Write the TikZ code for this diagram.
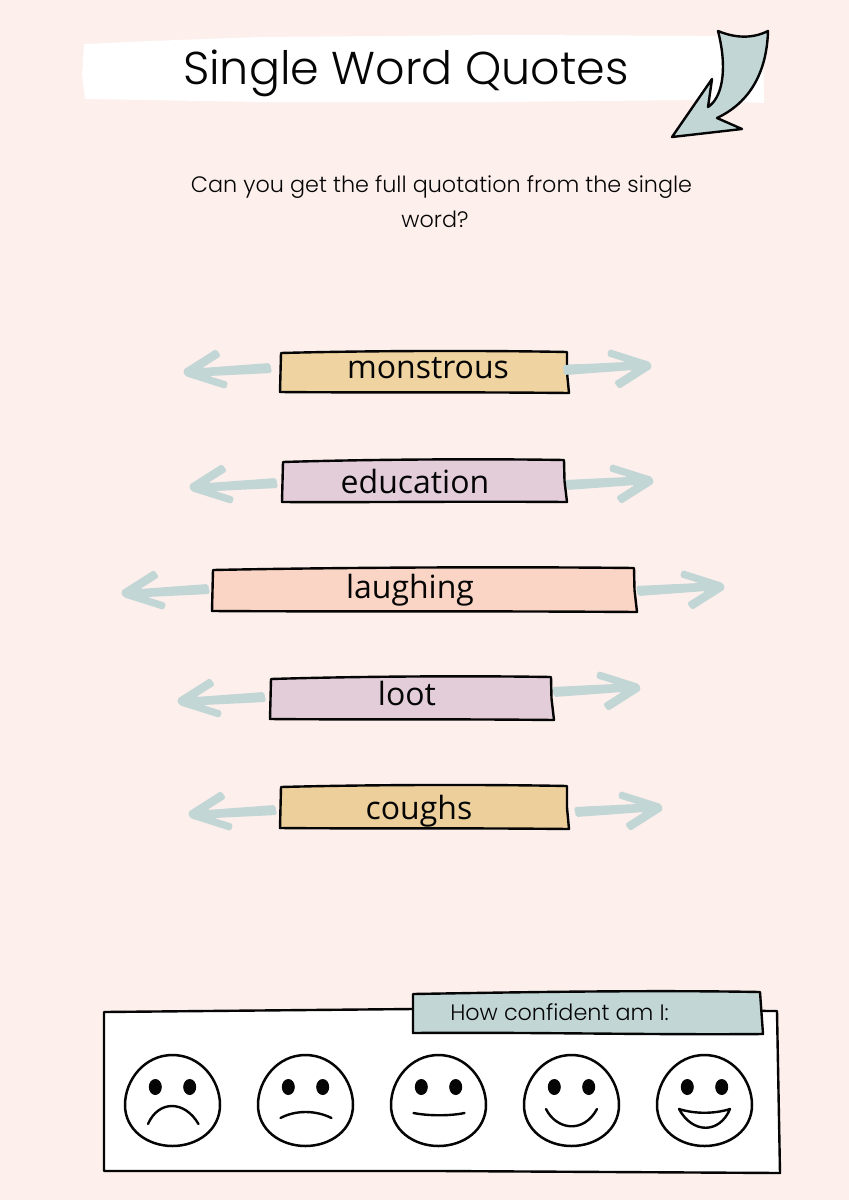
\documentclass[tikz,border=0pt]{standalone}
\usepackage{fontspec}
\setmainfont{Open Sans}
\newfontfamily\headfont{Poppins}[UprightFont=* Light]
\definecolor{pagebg}{HTML}{FDEFEC}
\definecolor{teal}{HTML}{C2D6D6}
\definecolor{sand}{HTML}{EFD3A0}
\definecolor{sand2}{HTML}{EDCF9C}
\definecolor{mauve}{HTML}{E3CDD8}
\definecolor{peach}{HTML}{FAD4C4}
\definecolor{ink}{HTML}{050505}
\tikzset{
  sketch/.style={draw=ink,line width=2.4pt,line join=round},
  wordtext/.style={anchor=base,font=\fontsize{32}{32}\selectfont,text=ink,inner sep=0pt},
  headtext/.style={anchor=base,font=\headfont\fontsize{22.3}{22.3}\selectfont,text=ink,inner sep=0pt},
  eye/.style={fill=ink,draw=none},
  facemouth/.style={draw=ink,line width=2.4pt,line cap=round,line join=round}
}
% hand drawn arrow: name, x, y, rotation
\newcommand{\handarrow}[4]{%
  \coordinate (#1) at (#2,#3);
  \begin{scope}[shift={(#1)},rotate=#4]
    \fill[teal,rounded corners=1.8pt] (0,-4) -- (63,-7) -- (44,-13) -- (46,-20) -- (87,-7) -- (89,-1)
      -- (56,20) -- (51,13) -- (70,1) -- (2,6) -- cycle;
  \end{scope}}
% word box: name, 4 corners x/y
\newcommand{\wordbox}[9]{%
  \coordinate (#1 a) at (#2,#3);
  \coordinate (#1 b) at (#4,#5);
  \coordinate (#1 c) at (#6,#7);
  \coordinate (#1 d) at (#8,#9);
  \filldraw[sketch] (#1 a) .. controls ($(#1 a)!.3!(#1 b)+(0,-2)$) and ($(#1 a)!.7!(#1 b)+(0,-2)$) .. (#1 b)
    -- ($(#1 b)!.5!(#1 c)+(-1,0)$) -- (#1 c) .. controls ($(#1 c)!.4!(#1 d)+(0,-.8)$) and ($(#1 c)!.7!(#1 d)+(0,.5)$) .. (#1 d) -- cycle;}
% face: name, centre x
\newcommand{\faceblob}[2]{%
  \coordinate (#1) at (#2,1100);
  \begin{scope}[shift={(#1)}]
    \draw[draw=ink,line width=2.5pt] (0,-45) .. controls (28,-45) and (47.5,-20) .. (47.5,5)
      .. controls (47.5,30) and (25,46) .. (0,46) .. controls (-25,46) and (-47.5,30) .. (-47.5,5)
      .. controls (-47.5,-20) and (-28,-45) .. (0,-45) -- cycle;
    \fill[eye] (-17.2,-13) ellipse [x radius=6.5,y radius=8];
    \fill[eye] (17.2,-13) ellipse [x radius=6.5,y radius=8];
  \end{scope}}
\usetikzlibrary{calc}
\begin{document}
\begin{tikzpicture}[x=1pt,y=-1pt]
\useasboundingbox (0,0) rectangle (849,1200);
\fill[pagebg] (0,0) rectangle (849,1200);

% title banner
\fill[white] (84,44) -- (150,41) -- (260,37) -- (500,35) -- (763,36) -- (764,103) -- (700,100) -- (500,102) -- (260,102) -- (85,99) -- (82,75) -- cycle;
\node[anchor=base,font=\headfont\fontsize{46}{46}\selectfont,text=ink,inner sep=0pt] (title) at (406,84.5) {Single Word Quotes};

% corner arrow
\filldraw[sketch,fill=teal] (718,31) .. controls (735,38) and (752,39) .. (768,31)
  .. controls (767,65) and (755,100) .. (717,118) -- (742,129) -- (672,137) -- (712,79)
  -- (708,107) .. controls (722,98) and (728,70) .. (718,31) -- cycle;

\node[headtext] (q1) at (441.5,192) {Can you get the full quotation from the single};
\node[headtext] (q2) at (435,227) {word?};

% arrows
\handarrow{r1}{563}{369}{0}
\handarrow{l1}{272}{369}{180}
\handarrow{r2}{565}{484}{0}
\handarrow{l2}{278}{484}{180}
\handarrow{r3}{636}{590}{0}
\handarrow{l3}{210}{590}{180}
\handarrow{r4}{552}{691}{0}
\handarrow{l4}{266}{698}{180}
\handarrow{r5}{574}{811}{0}
\handarrow{l5}{277}{811}{180}

% word boxes
\begin{scope}[fill=sand]\wordbox{b1}{281}{353}{567}{352}{569}{393}{280}{392}\end{scope}
\begin{scope}[fill=mauve]\wordbox{b2}{283}{462}{564}{460}{567}{502}{282}{502}\end{scope}
\begin{scope}[fill=peach]\wordbox{b3}{213}{570}{634}{568}{637}{612}{212}{611}\end{scope}
\begin{scope}[fill=mauve]\wordbox{b4}{271}{679}{551}{677}{554}{720}{270}{719}\end{scope}
\begin{scope}[fill=sand2]\wordbox{b5}{281}{787}{567}{786}{569}{829}{280}{828}\end{scope}
% right shafts lie over the box edge
\fill[teal,rounded corners=1.5pt] (563,365) -- (585,364) -- (585,373) -- (564,375) -- cycle;
\node[wordtext] (w1) at (428,378) {monstrous};
\node[wordtext] (w2) at (415,493) {education};
\node[wordtext] (w3) at (410,598) {laughing};
\node[wordtext] (w4) at (407,705) {loot};
\node[wordtext] (w5) at (419,819) {coughs};

% confidence panel
\filldraw[sketch,fill=white] (104,1012) -- (413,1009) -- (777,1011) -- (780,1173) -- (440,1171) -- (104,1171) -- cycle;
\filldraw[sketch,fill=teal] (413,994) .. controls (530,992) and (650,990) .. (760,992) -- (763,1034)
  .. controls (650,1035) and (530,1032) .. (413,1033) -- cycle;
\node[headtext] (conf) at (559.5,1020) {How confident am I:};

% faces
\faceblob{f1}{172.5}
\draw[facemouth] ($(f1)+(-24.5,24)$) .. controls ($(f1)+(-14,0)$) and ($(f1)+(12,0)$) .. ($(f1)+(26,24)$);
\faceblob{f2}{305.5}
\draw[facemouth] ($(f2)+(-25,18)$) .. controls ($(f2)+(-10,10)$) and ($(f2)+(10,10)$) .. ($(f2)+(26,18)$);
\faceblob{f3}{438.5}
\draw[facemouth] ($(f3)+(-25,13)$) .. controls ($(f3)+(-10,16)$) and ($(f3)+(12,16)$) .. ($(f3)+(26,13)$);
\faceblob{f4}{571.5}
\draw[facemouth] ($(f4)+(-25.5,9)$) .. controls ($(f4)+(-15,30)$) and ($(f4)+(12,34)$) .. ($(f4)+(25.5,9)$);
\faceblob{f5}{704.5}
\draw[facemouth] ($(f5)+(-25.5,9)$) .. controls ($(f5)+(-10,14)$) and ($(f5)+(10,14)$) .. ($(f5)+(25.5,9)$)
  .. controls ($(f5)+(15,34)$) and ($(f5)+(-12,34)$) .. ($(f5)+(-25.5,9)$) -- cycle;
\end{tikzpicture}
\end{document}
